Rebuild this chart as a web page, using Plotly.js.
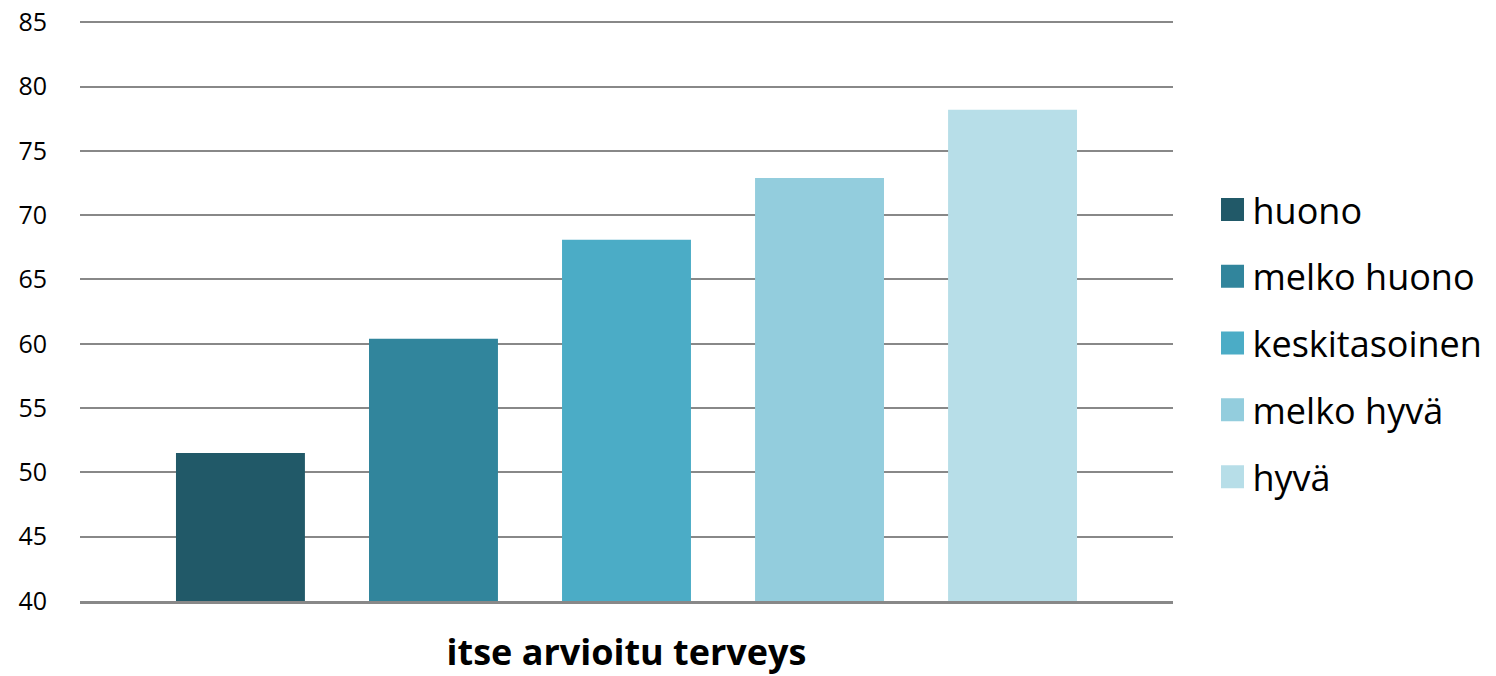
<!DOCTYPE html>
<html>
<head>
<meta charset="utf-8">
<script src="https://cdn.plot.ly/plotly-3.0.1.min.js"></script>
<style>html,body{margin:0;padding:0;background:#fff;}#chart{width:1496px;height:676px;}</style>
</head>
<body>
<div id="chart"></div>
<script>
const categories = ['huono', 'melko huono', 'keskitasoinen', 'melko hyvä', 'hyvä'];
const values = [51.5, 60.4, 68.1, 72.9, 78.2];
const colors = ['#215968', '#31859C', '#4BACC6', '#93CDDD', '#B7DEE8'];
const xTitle = 'itse arvioitu terveys';
const yTicks = [40, 45, 50, 55, 60, 65, 70, 75, 80, 85];

const traces = categories.map((name, i) => ({
  type: 'bar',
  name: name,
  x: [''],
  y: [values[i]],
  marker: {color: colors[i]},
  legendgroup: 'g' + i,
  hoverinfo: 'name+y'
}));

const layout = {
  width: 1496, height: 676,
  margin: {l: 80, r: 323, t: 21, b: 75},
  paper_bgcolor: '#fff', plot_bgcolor: '#fff',
  font: {family: 'Open Sans, sans-serif', color: '#000'},
  barmode: 'group',
  bargap: 0.117,
  bargroupgap: 0.332,
  showlegend: true,
  legend: {
    xref: 'container', yref: 'container',
    x: 0.8105, xanchor: 'left', y: 0.4925, yanchor: 'middle',
    font: {size: 36, color: '#000'},
    tracegroupgap: 17,
    traceorder: 'grouped'
  },
  xaxis: {
    showticklabels: false,
    showline: true, linecolor: '#888', linewidth: 3,
    showgrid: false, zeroline: false,
    title: {text: '<b>' + xTitle + '</b>', font: {size: 36, color: '#000'}, standoff: 53}
  },
  yaxis: {
    range: [40, 85.1],
    tickvals: yTicks,
    showgrid: true, gridcolor: '#888', gridwidth: 2,
    zeroline: false, showline: false,
    ticks: '', ticklabelstandoff: 32,
    tickfont: {size: 25, color: '#000'}
  }
};

Plotly.newPlot('chart', traces, layout, {displayModeBar: false, staticPlot: true}).then(() => {
  document.querySelectorAll('.legendpoints path').forEach(p => {
    p.setAttribute('d', 'M11.5,11.5H-11.5V-11.5H11.5Z');
  });
});
</script>
</body>
</html>
